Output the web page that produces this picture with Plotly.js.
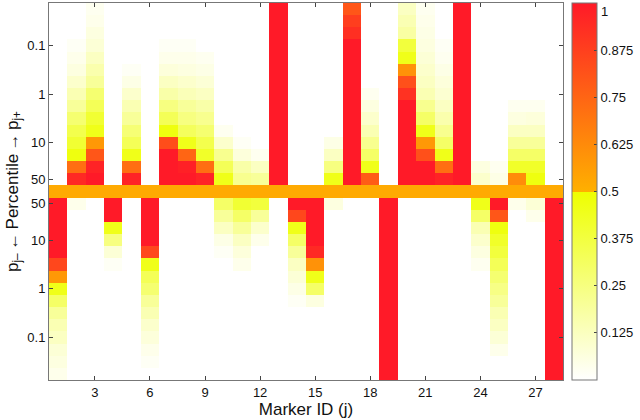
<!DOCTYPE html>
<html>
<head>
<meta charset="utf-8">
<script src="https://cdn.plot.ly/plotly-3.0.1.min.js"></script>
<style>html,body{margin:0;padding:0;background:#fff;}#chart{width:640px;height:420px;}</style>
</head>
<body>
<div id="chart"></div>
<script>
// Marker IDs
const markers = Array.from({length: 28}, (_, i) => i + 1);

// Upper half (p_j+): 15 rows per marker, from the top of the chart down to the middle
const upperByMarker = [
  [0,0,0,0,0,0,0,0,0,0,0,0,0,0,0],
  [0,0,0,0.02,0.04,0.06,0.1,0.15,0.2,0.28,0.35,0.4,0.47,0.72,0.95],
  [0.03,0.04,0.06,0.08,0.12,0.16,0.2,0.28,0.33,0.4,0.45,0.58,0.8,0.97,1],
  [0,0,0,0,0,0,0,0,0,0,0,0,0,0,0],
  [0,0,0,0,0,0.02,0.05,0.1,0.15,0.2,0.27,0.33,0.45,0.72,0.97],
  [0,0,0,0,0,0,0,0,0,0,0,0,0,0,0],
  [0,0,0,0.02,0.04,0.07,0.12,0.17,0.25,0.33,0.47,0.83,1,1,1],
  [0,0,0,0.02,0.04,0.06,0.1,0.14,0.2,0.25,0.32,0.45,0.75,0.98,1],
  [0,0,0,0,0.03,0.05,0.08,0.12,0.17,0.22,0.28,0.35,0.42,0.72,0.97],
  [0,0,0,0,0,0,0,0,0,0,0.03,0.1,0.22,0.33,0.45],
  [0,0,0,0,0,0,0,0,0,0,0,0.02,0.07,0.17,0.22],
  [0,0,0,0,0,0,0,0,0,0,0,0,0.03,0.12,0.2],
  [1,1,1,1,1,1,1,1,1,1,1,1,1,1,1],
  [0,0,0,0,0,0,0,0,0,0,0,0,0,0,0],
  [0,0,0,0,0,0,0,0,0,0,0,0,0,0,0],
  [0,0,0,0,0,0,0,0,0,0,0,0.05,0.12,0.25,0.45],
  [0.8,0.88,0.93,1,1,1,1,1,1,1,1,1,1,1,1],
  [0,0,0,0,0,0,0,0.03,0.06,0.1,0.15,0.22,0.3,0.45,0.78],
  [0,0,0,0,0,0,0,0,0,0,0,0,0,0,0],
  [0.12,0.15,0.18,0.38,0.45,0.6,0.82,0.92,1,1,1,1,1,1,1],
  [0.03,0.04,0.05,0.06,0.08,0.1,0.12,0.15,0.22,0.3,0.45,0.58,0.82,1,1],
  [0,0,0,0.02,0.03,0.05,0.07,0.09,0.12,0.16,0.22,0.3,0.45,0.72,0.97],
  [1,1,1,1,1,1,1,1,1,1,1,1,1,1,1],
  [0,0,0,0,0,0,0,0,0,0,0,0,0,0.06,0.1],
  [0,0,0,0,0,0,0,0,0,0,0,0,0,0.03,0.05],
  [0,0,0,0,0,0,0,0,0.03,0.06,0.12,0.2,0.3,0.42,0.62],
  [0,0,0,0,0,0,0,0,0.03,0.07,0.12,0.2,0.3,0.42,0.47],
  [0,0,0,0,0,0,0,0,0,0,0,0,0,0,0]
];

// Middle row (50th percentile) value for every marker
const middleValue = 0.52;

// Lower half (p_j-): 15 rows per marker, from the middle down to the bottom of the chart
const lowerByMarker = [
  [1,1,1,1,1,0.85,0.58,0.45,0.3,0.2,0.15,0.12,0.08,0.06,0.04],
  [0.04,0,0,0,0,0,0,0,0,0,0,0,0,0,0],
  [0,0,0,0,0,0,0,0,0,0,0,0,0,0,0],
  [1,1,0.45,0.25,0.08,0.02,0,0,0,0,0,0,0,0,0],
  [0,0,0,0,0,0,0,0,0,0,0,0,0,0,0],
  [1,1,1,1,0.85,0.45,0.33,0.28,0.2,0.15,0.1,0.07,0.04,0.02,0],
  [0,0,0,0,0,0,0,0,0,0,0,0,0,0,0],
  [0,0,0,0,0,0,0,0,0,0,0,0,0,0,0],
  [0,0,0,0,0,0,0,0,0,0,0,0,0,0,0],
  [0.3,0.2,0.12,0.05,0.02,0,0,0,0,0,0,0,0,0,0],
  [0.4,0.3,0.2,0.12,0.07,0.04,0,0,0,0,0,0,0,0,0],
  [0.38,0.2,0.1,0.04,0,0,0,0,0,0,0,0,0,0,0],
  [0,0,0,0,0,0,0,0,0,0,0,0,0,0,0],
  [1,0.85,0.45,0.3,0.2,0.12,0.08,0.05,0.02,0,0,0,0,0,0],
  [1,1,1,1,0.95,0.6,0.45,0.3,0.06,0,0,0,0,0,0],
  [0.06,0,0,0,0,0,0,0,0,0,0,0,0,0,0],
  [0,0,0,0,0,0,0,0,0,0,0,0,0,0,0],
  [0,0,0,0,0,0,0,0,0,0,0,0,0,0,0],
  [1,1,1,1,1,1,1,1,1,1,1,1,1,1,1],
  [0,0,0,0,0,0,0,0,0,0,0,0,0,0,0],
  [0,0,0,0,0,0,0,0,0,0,0,0,0,0,0],
  [0,0,0,0,0,0,0,0,0,0,0,0,0,0,0],
  [0,0,0,0,0,0,0,0,0,0,0,0,0,0,0],
  [0.45,0.3,0.15,0.1,0.06,0.03,0,0,0,0,0,0,0,0,0],
  [1,0.8,0.47,0.42,0.38,0.33,0.28,0.24,0.2,0.15,0.12,0.08,0.04,0,0],
  [0.04,0,0,0,0,0,0,0,0,0,0,0,0,0,0],
  [0.08,0.04,0,0,0,0,0,0,0,0,0,0,0,0,0],
  [1,1,1,1,1,1,1,1,1,1,1,1,1,1,1]
];

// Y tick positions (row index, 0 = bottom row) and labels
const yTickRows = [3, 7, 11, 14, 16, 19, 23, 27];
const yTickLabels = ['0.1', '1', '10', '50', '50', '10', '1', '0.1'];
const xTickVals = [3, 6, 9, 12, 15, 18, 21, 24, 27];
const cbTickVals = [0.125, 0.25, 0.375, 0.5, 0.625, 0.75, 0.875];
const cbTickText = ['0.125', '0.25', '0.375', '0.5', '0.625', '0.75', '0.875'];
const cbTopLabel = '1';

// Build z: row index 0 = bottom; rows 0..14 lower half, 15 middle, 16..30 upper half
const nHalf = 15;
const rows = [];
const z = [];
for (let r = 0; r < 2 * nHalf + 1; r++) {
  rows.push(r);
  const line = [];
  for (let j = 0; j < markers.length; j++) {
    let v;
    if (r < nHalf) v = lowerByMarker[j][nHalf - 1 - r];
    else if (r === nHalf) v = middleValue;
    else v = upperByMarker[j][2 * nHalf - r];
    line.push(v);
  }
  z.push(line);
}

const fontFam = 'Liberation Sans, Arial, sans-serif';

const trace = {
  type: 'heatmap',
  x: markers,
  y: rows,
  z: z,
  zmin: 0,
  zmax: 1,
  zsmooth: false,
  hoverinfo: 'skip',
  colorscale: [[0, '#ffffff'], [0.5, '#eeff00'], [0.5, '#ffb000'], [1, '#ff1a28']],
  colorbar: {
    x: 1.0173, xanchor: 'left', xref: 'paper', xpad: 0,
    y: 0.5, yanchor: 'middle', len: 1, lenmode: 'fraction', ypad: 0,
    thickness: 25, thicknessmode: 'pixels',
    outlinewidth: 1, outlinecolor: '#777',
    ticks: 'inside', ticklen: 3, tickcolor: '#444', tickwidth: 1,
    tickvals: cbTickVals, ticktext: cbTickText,
    tickfont: {family: fontFam, size: 13, color: '#111'}
  }
};

const layout = {
  width: 640, height: 420,
  margin: {l: 49, r: 72, t: 3, b: 40, pad: 0},
  paper_bgcolor: '#fff', plot_bgcolor: '#fff',
  font: {family: fontFam, size: 13, color: '#111'},
  xaxis: {
    range: [0.5, 28.5], tickvals: xTickVals, ticks: 'inside', ticklen: 4,
    tickcolor: '#444', showline: true, linecolor: '#777', linewidth: 1, mirror: 'ticks',
    showgrid: false, zeroline: false,
    title: {text: 'Marker ID (j)', font: {size: 17}, standoff: 2}
  },
  yaxis: {
    range: [-0.5, 30.5], tickvals: yTickRows, ticktext: yTickLabels, ticks: 'inside', ticklen: 4,
    tickcolor: '#444', showline: true, linecolor: '#777', linewidth: 1, mirror: 'ticks',
    showgrid: false, zeroline: false,
    title: {text: 'p<sub>j–</sub>\u2009←\u2009Percentile\u2009→\u2009p<sub>j+</sub>', font: {size: 17}, standoff: 4}
  },
  annotations: [{
    text: cbTopLabel, xref: 'paper', yref: 'paper', x: 1.0694, y: 1,
    xanchor: 'left', yanchor: 'top', showarrow: false, yshift: 1,
    font: {family: fontFam, size: 13, color: '#111'}
  }]
};

Plotly.newPlot('chart', [trace], layout, {displayModeBar: false, staticPlot: true});
</script>
</body>
</html>
